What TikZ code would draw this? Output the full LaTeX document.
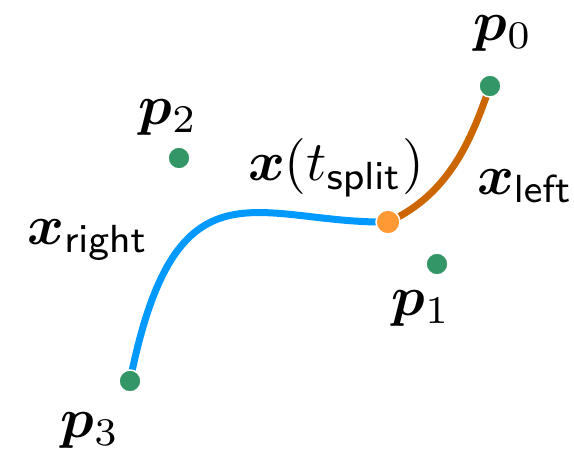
\documentclass[tikz,border=0pt]{standalone}
\usepackage{amsmath}
\usepackage{bm}
\definecolor{ptgreen}{RGB}{51,150,102}
\definecolor{splitorange}{RGB}{255,153,51}
\definecolor{leftcol}{RGB}{204,102,0}
\definecolor{rightcol}{RGB}{0,153,255}
\tikzset{
  ctrlpt/.style={circle,fill=ptgreen,draw=white,line width=1.5pt,minimum size=22pt,inner sep=0pt},
  splitpt/.style={circle,fill=splitorange,draw=white,line width=1.5pt,minimum size=24pt,inner sep=0pt},
  lbl/.style={inner sep=0pt,scale=5.6},
  seg/.style={line width=7pt}
}
\begin{document}
\begin{tikzpicture}[x=1pt,y=-1pt]
\useasboundingbox (0,0) rectangle (574,459);
\coordinate (c0) at (490,86);
\coordinate (c1) at (437,264);
\coordinate (c2) at (179,158);
\coordinate (c3) at (130,381);
\coordinate (cs) at (388,222);
\draw[seg,leftcol] (c0) .. controls (474,131) and (453,193) .. (cs);
\draw[seg,rightcol] (cs) .. controls (258,224) and (176,151) .. (c3);
\node[ctrlpt] (p0) at (c0) {};
\node[ctrlpt] (p1) at (c1) {};
\node[ctrlpt] (p2) at (c2) {};
\node[ctrlpt] (p3) at (c3) {};
\node[splitpt] (s) at (cs) {};
\node[lbl] (l0) at (503,33) {$\bm{p}_0$};
\node[lbl] (l1) at (421,308) {$\bm{p}_1$};
\node[lbl] (l2) at (168,117) {$\bm{p}_2$};
\node[lbl] (l3) at (90,430) {$\bm{p}_3$};
\node[lbl] (ls) at (336,168) {$\bm{x}(t_{\mathsf{split}})$};
\node[lbl] (ll) at (525,186) {$\bm{x}_{\mathsf{left}}$};
\node[lbl] (lr) at (88,240) {$\bm{x}_{\mathsf{right}}$};
\end{tikzpicture}
\end{document}
